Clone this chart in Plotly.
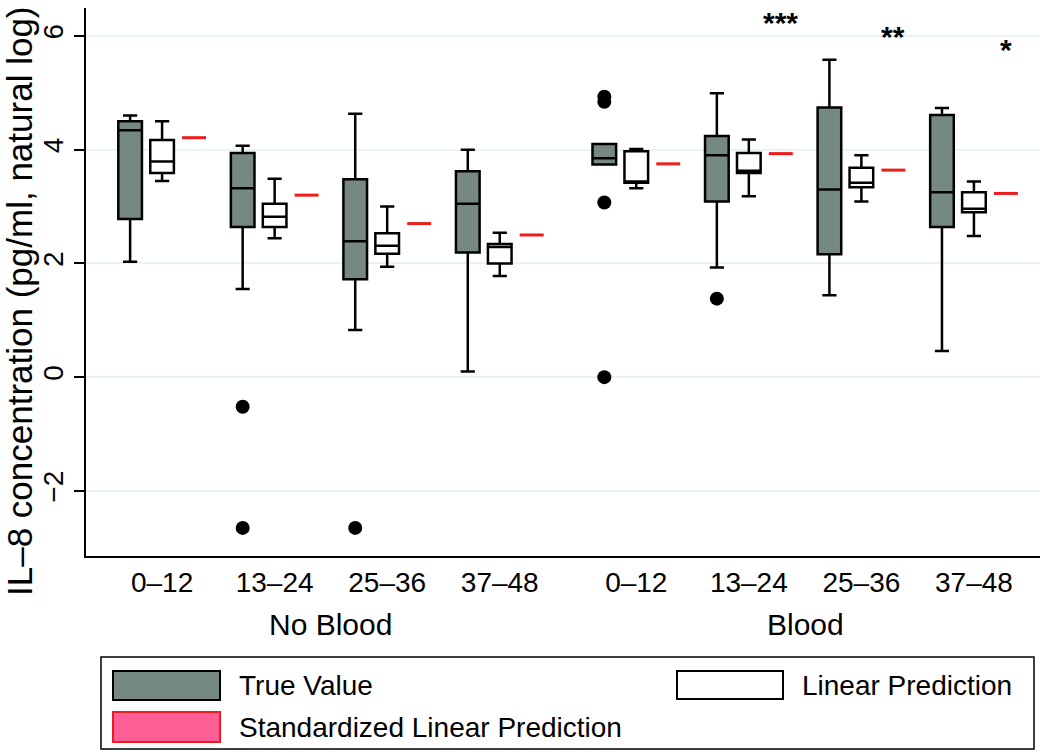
import plotly.graph_objects as go

# ---------------- data ----------------
categories = ["0–12", "13–24", "25–36", "37–48", "0–12", "13–24", "25–36", "37–48"]
group_names = ["No Blood", "Blood"]
group_of = [0, 0, 0, 0, 1, 1, 1, 1]

# True Value (box statistics)
true_q1 = [2.78, 2.64, 1.72, 2.19, 3.74, 3.09, 2.16, 2.64]
true_med = [4.34, 3.32, 2.39, 3.05, 3.85, 3.90, 3.30, 3.25]
true_q3 = [4.50, 3.94, 3.48, 3.62, 4.10, 4.24, 4.74, 4.61]
true_lo = [2.03, 1.55, 0.83, 0.10, 3.74, 1.93, 1.44, 0.46]
true_hi = [4.60, 4.07, 4.63, 4.00, 4.10, 4.99, 5.58, 4.73]

# Linear Prediction (box statistics)
lin_q1 = [3.59, 2.64, 2.17, 2.00, 3.42, 3.59, 3.34, 2.90]
lin_med = [3.79, 2.82, 2.31, 2.29, 3.44, 3.63, 3.42, 2.96]
lin_q3 = [4.17, 3.05, 2.53, 2.34, 3.97, 3.94, 3.68, 3.25]
lin_lo = [3.45, 2.44, 1.94, 1.78, 3.32, 3.18, 3.09, 2.48]
lin_hi = [4.50, 3.49, 3.00, 2.54, 4.01, 4.18, 3.90, 3.44]

# Standardized Linear Prediction
std_pred = [4.21, 3.20, 2.70, 2.50, 3.75, 3.93, 3.64, 3.23]

# Outliers of True Value (category index, value)
outlier_cat = [1, 1, 2, 4, 4, 4, 4, 5]
outlier_val = [-0.52, -2.65, -2.65, 4.93, 4.84, 3.07, 0.0, 1.38]

# Significance stars
star_cat = [5, 6, 7]
star_text = ["***", "**", "*"]
star_y = [6.24, 5.99, 5.76]

y_ticks = [-2, 0, 2, 4, 6]
legend_labels = ["True Value", "Linear Prediction", "Standardized Linear Prediction"]

# ---------------- styling / layout ----------------
FONT = "Liberation Sans, Arial, sans-serif"
GRAY = "#768884"
PINK = "#ff5f96"
RED = "#ee1c1c"
GRID = "#e8f4f3"

W, H = 1050, 751
ML, MR, MT, MB = 86, 10, 8, 195
GROUP_GAP = 0.213
OFF = 0.284
BOXW = 0.21
REDW = 0.213

pos = [i + (GROUP_GAP if g == 1 else 0) for i, g in enumerate(group_of)]
x_range = [-0.676, 7.80]
y_range = [-3.144, 6.49]

fig = go.Figure()

for i, p in enumerate(pos):
    fig.add_trace(go.Box(
        x=[p - OFF], q1=[true_q1[i]], median=[true_med[i]], q3=[true_q3[i]],
        lowerfence=[true_lo[i]], upperfence=[true_hi[i]],
        width=BOXW, whiskerwidth=0.6, boxpoints=False,
        fillcolor=GRAY, line=dict(color="black", width=2.5),
        name=legend_labels[0], showlegend=False, hoverinfo="skip"))
    fig.add_trace(go.Box(
        x=[p], q1=[lin_q1[i]], median=[lin_med[i]], q3=[lin_q3[i]],
        lowerfence=[lin_lo[i]], upperfence=[lin_hi[i]],
        width=BOXW, whiskerwidth=0.6, boxpoints=False,
        fillcolor="white", line=dict(color="black", width=2.5),
        name=legend_labels[1], showlegend=False, hoverinfo="skip"))

# red standardized prediction lines
rx, ry = [], []
for i, p in enumerate(pos):
    rx += [p + OFF - REDW / 2, p + OFF + REDW / 2, None]
    ry += [std_pred[i], std_pred[i], None]
fig.add_trace(go.Scatter(x=rx, y=ry, mode="lines", line=dict(color=RED, width=3),
                         name=legend_labels[2], showlegend=False, hoverinfo="skip"))

# outliers
fig.add_trace(go.Scatter(
    x=[pos[c] - OFF for c in outlier_cat], y=outlier_val, mode="markers",
    marker=dict(color="black", size=14), showlegend=False, hoverinfo="skip"))

annotations = []
for c, t, yv in zip(star_cat, star_text, star_y):
    annotations.append(dict(x=pos[c] + OFF, y=yv, xref="x", yref="y", text="<b>" + t + "</b>",
                            showarrow=False, font=dict(family=FONT, size=30, color="black"),
                            xanchor="center", yanchor="middle"))

# group labels
pw = W - ML - MR
ph = H - MT - MB


def px2paper_x(px):
    return (px - ML) / pw


def px2paper_y(py):
    return (H - MB - py) / ph


for g, name in enumerate(group_names):
    members = [pos[i] for i in range(len(pos)) if group_of[i] == g]
    annotations.append(dict(x=sum(members) / len(members), y=px2paper_y(624), xref="x", yref="paper",
                            text=name, showarrow=False, font=dict(family=FONT, size=30, color="black"),
                            xanchor="center", yanchor="middle"))

# y-axis title
annotations.append(dict(x=px2paper_x(19), y=px2paper_y(301), xref="paper", yref="paper",
                        text="IL–8 concentration (pg/ml, natural log)", textangle=-90,
                        showarrow=False, font=dict(family=FONT, size=35, color="black"),
                        xanchor="center", yanchor="middle"))

# manual legend
shapes = []
shapes.append(dict(type="rect", xref="paper", yref="paper",
                   x0=px2paper_x(101), x1=px2paper_x(1034), y0=px2paper_y(657), y1=px2paper_y(749),
                   line=dict(color="black", width=1.5), fillcolor="white"))
legend_items = [
    (113, 220, 671, 700, GRAY, "black", 237, 686, legend_labels[0]),
    (677, 783, 671, 699, "white", "black", 800, 686, legend_labels[1]),
    (113, 220, 712, 742, PINK, RED, 237, 727, legend_labels[2]),
]
for x0, x1, y0, y1, fc, lc, tx, ty, lab in legend_items:
    shapes.append(dict(type="rect", xref="paper", yref="paper",
                       x0=px2paper_x(x0), x1=px2paper_x(x1), y0=px2paper_y(y0), y1=px2paper_y(y1),
                       line=dict(color=lc, width=2), fillcolor=fc))
    annotations.append(dict(x=px2paper_x(tx), y=px2paper_y(ty), xref="paper", yref="paper",
                            text=lab, showarrow=False, font=dict(family=FONT, size=28, color="black"),
                            xanchor="left", yanchor="middle"))

fig.update_layout(
    width=W, height=H,
    margin=dict(l=ML, r=MR, t=MT, b=MB),
    paper_bgcolor="white", plot_bgcolor="white",
    boxmode="overlay",
    showlegend=False,
    font=dict(family=FONT, color="black"),
    annotations=annotations,
    shapes=shapes,
    xaxis=dict(range=x_range, tickvals=pos, ticktext=categories, ticks="",
               showgrid=False, zeroline=False, showline=True, linecolor="black", linewidth=2,
               tickfont=dict(family=FONT, size=28, color="black")),
    yaxis=dict(range=y_range, tickvals=y_ticks, ticktext=[str(v).replace("-", "−") for v in y_ticks],
               tickangle=-90, ticks="outside", ticklen=10, tickwidth=2, tickcolor="black",
               showgrid=True, gridcolor=GRID, gridwidth=1.5, zeroline=False,
               showline=True, linecolor="black", linewidth=2,
               tickfont=dict(family=FONT, size=28, color="black")),
)

fig.write_html("out.html", config={"displayModeBar": False},
               post_script="document.body.style.margin='0';document.body.style.overflow='hidden';")
